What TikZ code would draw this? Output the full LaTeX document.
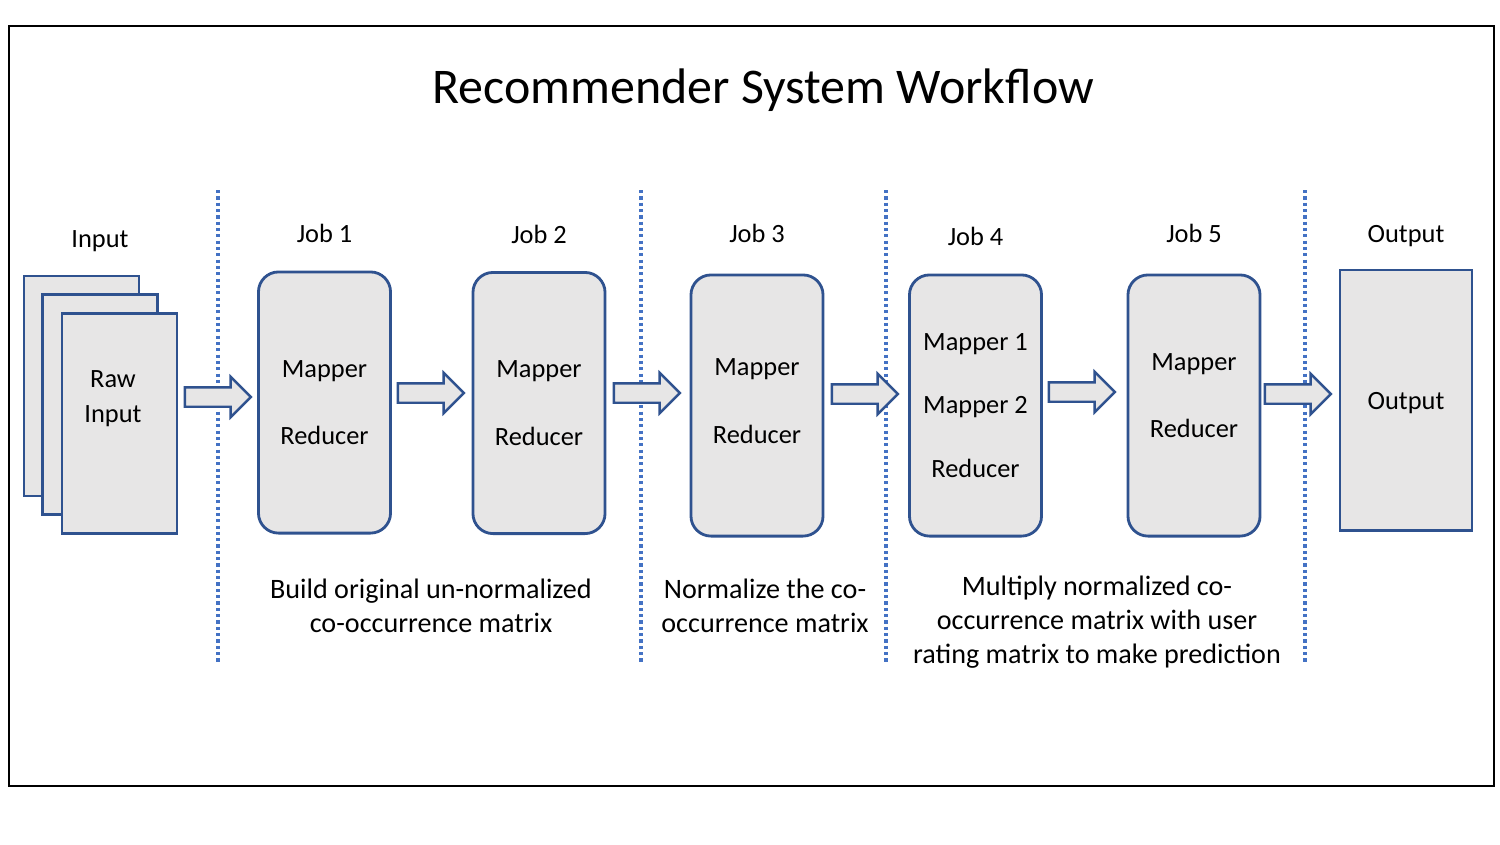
\documentclass[tikz,border=0pt]{standalone}
\usepackage{fontspec}
\setmainfont{Carlito}
\usetikzlibrary{shapes.arrows, positioning}

\definecolor{boxblue}{HTML}{2F528F}
\definecolor{boxgray}{HTML}{E7E6E6}
\definecolor{dotblue}{HTML}{4472C4}

\tikzset{
  jobbox/.style={draw=boxblue, fill=boxgray, line width=0.8pt, rounded corners=0.2cm,
    minimum width=1.32cm, minimum height=2.61cm, align=center, font=\fontsize{7.5}{9}\selectfont},
  pagebox/.style={draw=boxblue, fill=boxgray, line width=0.8pt, minimum width=1.15cm, minimum height=2.2cm},
  flowarrow/.style={single arrow, draw=boxblue, fill=boxgray, line width=0.7pt, inner xsep=0pt, inner ysep=0.085cm,
    minimum height=0.66cm, minimum width=0.38cm, single arrow head extend=0.105cm},
  joblabel/.style={inner sep=0pt, font=\fontsize{7.5}{9}\selectfont},
  note/.style={align=center, font=\fontsize{8}{9.6}\selectfont},
  stage/.style={dotblue, line width=0.9pt, dash pattern=on 0.9pt off 0.9pt}
}

\begin{document}
\begin{tikzpicture}[x=0.01cm, y=-0.01cm]
    \useasboundingbox (0,0) rectangle (1500,844);
    \draw[line width=0.7pt] (9,26) rectangle (1494,786);

    % Title
    \node[font=\fontsize{14.2}{17}\selectfont] (title) at (763,90) {Recommender System Workflow};

    % Stage separators
    \foreach \sx in {218, 641, 886, 1305}
        \draw[stage] (\sx,190) -- (\sx,663);

    % Input
    \node[pagebox] (page1) at (81.5,386) {};
    \node[pagebox] (page2) at (100,404.5) {};
    \node[pagebox] (page3) at (119.5,423.5) {};
    \node[align=center, font=\fontsize{7.5}{10}\selectfont] (rawinput) at (113,399) {Raw\\Input};
    \node[joblabel, above=0.22cm of page1.north -| page2.north] (inputlbl) {Input};

    % Jobs
    \node[jobbox] (job1) at (324.5,402.5) {Mapper\\[0.36cm]Reducer};
    \node[jobbox] (job2) at (539,403) {Mapper\\[0.36cm]Reducer};
    \node[jobbox] (job3) at (757,405.5) {Mapper\\[0.36cm]Reducer\\[-0.22cm]};
    \node[jobbox] (job4) at (975.5,405.5) {Mapper 1\\[0.32cm]Mapper 2\\[0.32cm]Reducer};
    \node[jobbox] (job5) at (1194,405.5) {Mapper\\[0.35cm]Reducer\\[-0.12cm]};
    \node[pagebox, minimum width=1.32cm, minimum height=2.6cm, font=\fontsize{7.5}{9}\selectfont] (output) at (1406,400) {};
    \node[font=\fontsize{7.5}{9}\selectfont] (outputtext) at (1406,403) {Output};

    \node[joblabel, above=0.27cm of job1] (job1lbl) {Job 1};
    \node[joblabel, above=0.27cm of job2] (job2lbl) {Job 2};
    \node[joblabel, above=0.30cm of job3] (job3lbl) {Job 3};
    \node[joblabel, above=0.27cm of job4] (job4lbl) {Job 4};
    \node[joblabel, above=0.30cm of job5] (job5lbl) {Job 5};
    \node[joblabel, above=0.21cm of output] (outputlbl) {Output};

    % Flow arrows
    \node[flowarrow] (flow1) at (213,397) {};
    \node[flowarrow] (flow2) at (426,393) {};
    \node[flowarrow] (flow3) at (642,393) {};
    \node[flowarrow] (flow4) at (860,394) {};
    \node[flowarrow] (flow5) at (1077,392) {};
    \node[flowarrow] (flow6) at (1293,394) {};

    % Notes
    \node[note] (note1) at (431,606) {Build original un-normalized\\co-occurrence matrix};
    \node[note] (note2) at (765,606) {Normalize the co-\\occurrence matrix};
    \node[note] (note3) at (1097,622) {Multiply normalized co-\\occurrence matrix with user\\rating matrix to make prediction};
\end{tikzpicture}
\end{document}
